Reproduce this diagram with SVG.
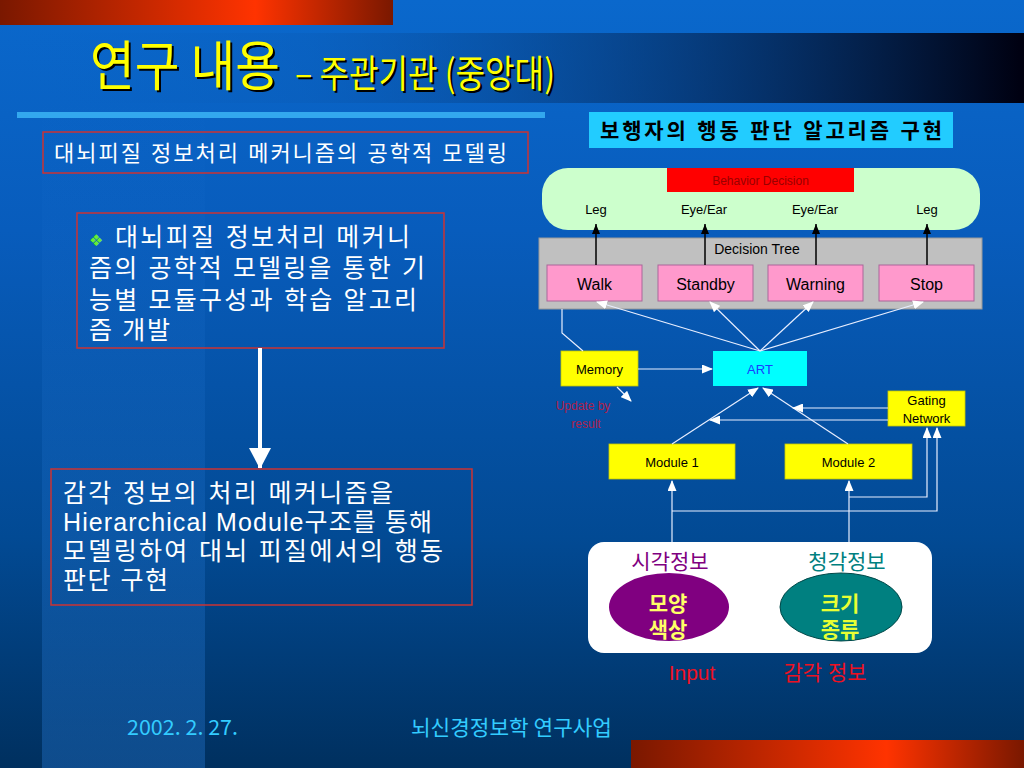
<svg xmlns="http://www.w3.org/2000/svg" width="1024" height="768" viewBox="0 0 1024 768">
<defs>
<linearGradient id="bg" x1="0" y1="0" x2="0" y2="1">
<stop offset="0" stop-color="#0a68cc"/>
<stop offset="0.3" stop-color="#085cbc"/>
<stop offset="0.7" stop-color="#024a94"/>
<stop offset="1" stop-color="#00305f"/>
</linearGradient>
<linearGradient id="band" x1="0" y1="0" x2="0" y2="1">
<stop offset="0" stop-color="#2a80e0" stop-opacity="0"/>
<stop offset="1" stop-color="#2a80e0" stop-opacity="0.35"/>
</linearGradient>
<linearGradient id="titleband" x1="0" y1="0" x2="1" y2="0">
<stop offset="0" stop-color="#0a64c8" stop-opacity="0"/>
<stop offset="0.3" stop-color="#0a58b0" stop-opacity="0.3"/>
<stop offset="1" stop-color="#000010" stop-opacity="1"/>
</linearGradient>
<linearGradient id="redbar" x1="0" y1="0" x2="1" y2="0">
<stop offset="0" stop-color="#7a1800"/>
<stop offset="0.65" stop-color="#ff3300"/>
<stop offset="1" stop-color="#7a1800"/>
</linearGradient>
<marker id="aw" markerWidth="11" markerHeight="9" refX="10" refY="4.5" orient="auto" markerUnits="userSpaceOnUse">
<path d="M0,0 L11,4.5 L0,9 z" fill="#ffffff"/>
</marker>
<marker id="ab" markerWidth="10" markerHeight="8" refX="10" refY="4" orient="auto" markerUnits="userSpaceOnUse">
<path d="M0,0 L10,4 L0,8 z" fill="#000000"/>
</marker>
<marker id="abig" markerWidth="22" markerHeight="22" refX="20" refY="11" orient="auto" markerUnits="userSpaceOnUse">
<path d="M0,0 L21,11 L0,22 z" fill="#ffffff"/>
</marker>
</defs>
<style>
.ko{font-family:"Liberation Sans","Noto Sans CJK KR",sans-serif;}
.wt{fill:#ffffff;}
.lbl{font-family:"Liberation Sans","Noto Sans CJK KR",sans-serif;fill:#000;text-anchor:middle;}
.s13{font-size:13px;}
.s14{font-size:14px;}
.s16{font-size:16px;}
.wl{stroke:#e8eeff;stroke-width:1.2;fill:none;}
.bl{stroke:#000;stroke-width:1.5;fill:none;}
.redbox{fill:none;stroke:#cc3333;stroke-width:1.5;}
.pink{fill:#ff99cc;stroke:#aa6699;stroke-width:1;}
.yel{fill:#ffff00;stroke:#c8c800;stroke-width:0.8;}
</style>

<!-- background -->
<rect x="0" y="0" width="1024" height="768" fill="url(#bg)"/>
<rect x="42" y="100" width="163" height="668" fill="url(#band)"/>
<rect x="0" y="33" width="1024" height="70" fill="url(#titleband)"/>
<rect x="0" y="0" width="393" height="25" fill="url(#redbar)"/>
<rect x="631" y="740" width="393" height="28" fill="url(#redbar)"/>
<rect x="17" y="112" width="528" height="6" fill="#33a8ee"/>

<!-- title -->
<g id="title" font-family="Noto Sans CJK KR, sans-serif">
<text x="92" y="88" font-size="54" textLength="190" lengthAdjust="spacingAndGlyphs" fill="#000">연구 내용</text>
<text x="90" y="86" font-size="54" textLength="190" lengthAdjust="spacingAndGlyphs" fill="#ffff00">연구 내용</text>
<text x="297" y="89" font-size="38" textLength="260" lengthAdjust="spacingAndGlyphs" fill="#000">– 주관기관 (중앙대)</text>
<text x="295" y="87" font-size="38" textLength="260" lengthAdjust="spacingAndGlyphs" fill="#ffff00">– 주관기관 (중앙대)</text>
</g>

<!-- left side -->
<g id="box-main">
<rect x="43" y="132" width="485" height="41" class="redbox"/>
<text x="54" y="161" class="ko wt" font-size="22" textLength="453" lengthAdjust="spacing">대뇌피질 정보처리 메커니즘의 공학적 모델링</text>
</g>
<g id="box-method">
<rect x="77" y="213" width="367" height="135" class="redbox"/>
<text x="89" y="246" class="ko" font-size="25" textLength="321" lengthAdjust="spacing"><tspan fill="#66ee33" font-size="16" font-family="DejaVu Sans, sans-serif">❖</tspan><tspan fill="#ffffff"> 대뇌피질 정보처리 메커니</tspan></text>
<text x="89" y="277" class="ko wt" font-size="25" textLength="336" lengthAdjust="spacing">즘의 공학적 모델링을 통한 기</text>
<text x="89" y="309" class="ko wt" font-size="25" textLength="328" lengthAdjust="spacing">능별 모듈구성과 학습 알고리</text>
<text x="89" y="339" class="ko wt" font-size="25" textLength="81" lengthAdjust="spacing">즘 개발</text>
</g>
<g id="big-arrow">
<line x1="260" y1="348" x2="260" y2="468" stroke="#ffffff" stroke-width="4" marker-end="url(#abig)"/>
</g>
<g id="box-result">
<rect x="51" y="469" width="421" height="136" class="redbox"/>
<text x="63" y="502" class="ko wt" font-size="25" textLength="330" lengthAdjust="spacing">감각 정보의 처리 메커니즘을</text>
<text x="63" y="531" class="ko wt" font-size="25" textLength="369" lengthAdjust="spacing">Hierarchical Module구조를 통해</text>
<text x="63" y="560" class="ko wt" font-size="25" textLength="380" lengthAdjust="spacing">모델링하여 대뇌 피질에서의 행동</text>
<text x="63" y="589" class="ko wt" font-size="25" textLength="105" lengthAdjust="spacing">판단 구현</text>
</g>

<!-- right diagram -->
<g id="diagram-title">
<rect x="589" y="112" width="364" height="36" fill="#22ccff"/>
<text x="600" y="138" class="ko" font-size="21" font-weight="bold" fill="#000" textLength="342" lengthAdjust="spacing">보행자의 행동 판단 알고리즘 구현</text>
</g>
<g id="behavior-decision">
<rect x="542" y="168" width="438" height="62" rx="26" ry="26" fill="#ccffcc"/>
<rect x="667" y="168" width="187" height="24" fill="#ff0000"/>
<text x="760.5" y="185" class="lbl" font-size="12" style="fill:#990000">Behavior Decision</text>
<text x="596" y="214" class="lbl s13">Leg</text>
<text x="704" y="214" class="lbl s13">Eye/Ear</text>
<text x="815" y="214" class="lbl s13">Eye/Ear</text>
<text x="927" y="214" class="lbl s13">Leg</text>
</g>
<g id="decision-tree">
<rect x="539" y="238" width="443" height="71" fill="#c0c0c0" stroke="#999999" stroke-width="1"/>
<text x="757" y="254" class="lbl s14">Decision Tree</text>
</g>
<g id="walk"><rect x="547" y="265" width="95" height="36" class="pink"/><text x="594.5" y="290" class="lbl s16">Walk</text></g>
<g id="standby"><rect x="658" y="265" width="95" height="36" class="pink"/><text x="705.5" y="290" class="lbl s16">Standby</text></g>
<g id="warning"><rect x="768" y="265" width="95" height="36" class="pink"/><text x="815.5" y="290" class="lbl s16">Warning</text></g>
<g id="stop"><rect x="879" y="265" width="95" height="36" class="pink"/><text x="926.5" y="290" class="lbl s16">Stop</text></g>

<g id="memory"><rect x="561" y="351" width="77" height="35" class="yel"/><text x="599.5" y="374" class="lbl s13">Memory</text></g>
<g id="art"><rect x="713" y="351" width="94" height="35" fill="#00ffff"/><text x="760" y="374" class="lbl s13" style="fill:#1a3cff">ART</text></g>
<g id="gating"><rect x="888" y="391" width="77" height="35" class="yel"/><text x="926.5" y="405" class="lbl s13">Gating</text><text x="926.5" y="423" class="lbl s13">Network</text></g>
<g id="module1"><rect x="609" y="444" width="126" height="35" class="yel"/><text x="672" y="467" class="lbl s13">Module 1</text></g>
<g id="module2"><rect x="785" y="444" width="127" height="35" class="yel"/><text x="848.5" y="467" class="lbl s13">Module 2</text></g>
<g id="update-label" font-family="Liberation Sans, sans-serif" font-size="12" fill="#b0204a" text-anchor="middle">
<text x="583" y="410">Update by</text>
<text x="586" y="428">result</text>
</g>

<g id="input">
<rect x="588" y="542" width="344" height="111" rx="16" ry="16" fill="#ffffff"/>
<text x="670" y="569" class="ko" font-size="21" fill="#800080" text-anchor="middle">시각정보</text>
<text x="847" y="569" class="ko" font-size="21" fill="#008080" text-anchor="middle">청각정보</text>
<ellipse cx="669" cy="607" rx="60" ry="34" fill="#800080"/>
<ellipse cx="841" cy="607" rx="61" ry="34" fill="#008080" stroke="#004848" stroke-width="1"/>
<text x="668" y="611" class="ko" font-size="21" font-weight="bold" fill="#ffff66" text-anchor="middle">모양</text>
<text x="668" y="637" class="ko" font-size="21" font-weight="bold" fill="#ffff66" text-anchor="middle">색상</text>
<text x="840" y="611" class="ko" font-size="21" font-weight="bold" fill="#e8ff33" text-anchor="middle">크기</text>
<text x="840" y="637" class="ko" font-size="21" font-weight="bold" fill="#e8ff33" text-anchor="middle">종류</text>
<text x="692" y="680" class="ko" font-size="21" fill="#ee1122" text-anchor="middle">Input</text>
<text x="825" y="680" class="ko" font-size="21" fill="#ee1122" text-anchor="middle">감각 정보</text>
</g>

<g id="connectors">
<line x1="596" y1="265" x2="596" y2="224" class="bl" marker-end="url(#ab)"/>
<line x1="705" y1="265" x2="705" y2="224" class="bl" marker-end="url(#ab)"/>
<line x1="816" y1="265" x2="816" y2="224" class="bl" marker-end="url(#ab)"/>
<line x1="927" y1="265" x2="927" y2="224" class="bl" marker-end="url(#ab)"/>
<path d="M562,309 V333 L583,351" class="wl"/>
<line x1="760" y1="351" x2="597" y2="302" class="wl" marker-end="url(#aw)"/>
<line x1="760" y1="351" x2="710" y2="302" class="wl" marker-end="url(#aw)"/>
<line x1="760" y1="351" x2="813" y2="302" class="wl" marker-end="url(#aw)"/>
<line x1="760" y1="351" x2="923" y2="302" class="wl" marker-end="url(#aw)"/>
<line x1="638" y1="369" x2="712" y2="369" class="wl" marker-end="url(#aw)"/>
<line x1="617" y1="387" x2="631" y2="401" class="wl" marker-end="url(#aw)"/>
<line x1="672" y1="444" x2="758" y2="388" class="wl" marker-end="url(#aw)"/>
<line x1="848" y1="444" x2="763" y2="388" class="wl" marker-end="url(#aw)"/>
<line x1="888" y1="408" x2="793" y2="408" class="wl" marker-end="url(#aw)"/>
<line x1="888" y1="420" x2="710" y2="420" class="wl" marker-end="url(#aw)"/>
<line x1="672" y1="542" x2="672" y2="481" class="wl" marker-end="url(#aw)"/>
<line x1="849" y1="542" x2="849" y2="481" class="wl" marker-end="url(#aw)"/>
<path d="M849,497 H927 V428" class="wl" marker-end="url(#aw)"/>
<path d="M672,511 H937 V428" class="wl" marker-end="url(#aw)"/>
</g>

<g id="footer" font-family="Noto Sans CJK KR, sans-serif" fill="#33ccff">
<text x="127" y="735" font-size="21" textLength="111" lengthAdjust="spacingAndGlyphs">2002. 2. 27.</text>
<text x="411" y="735" font-size="21" textLength="201" lengthAdjust="spacingAndGlyphs">뇌신경정보학 연구사업</text>
</g>
</svg>
